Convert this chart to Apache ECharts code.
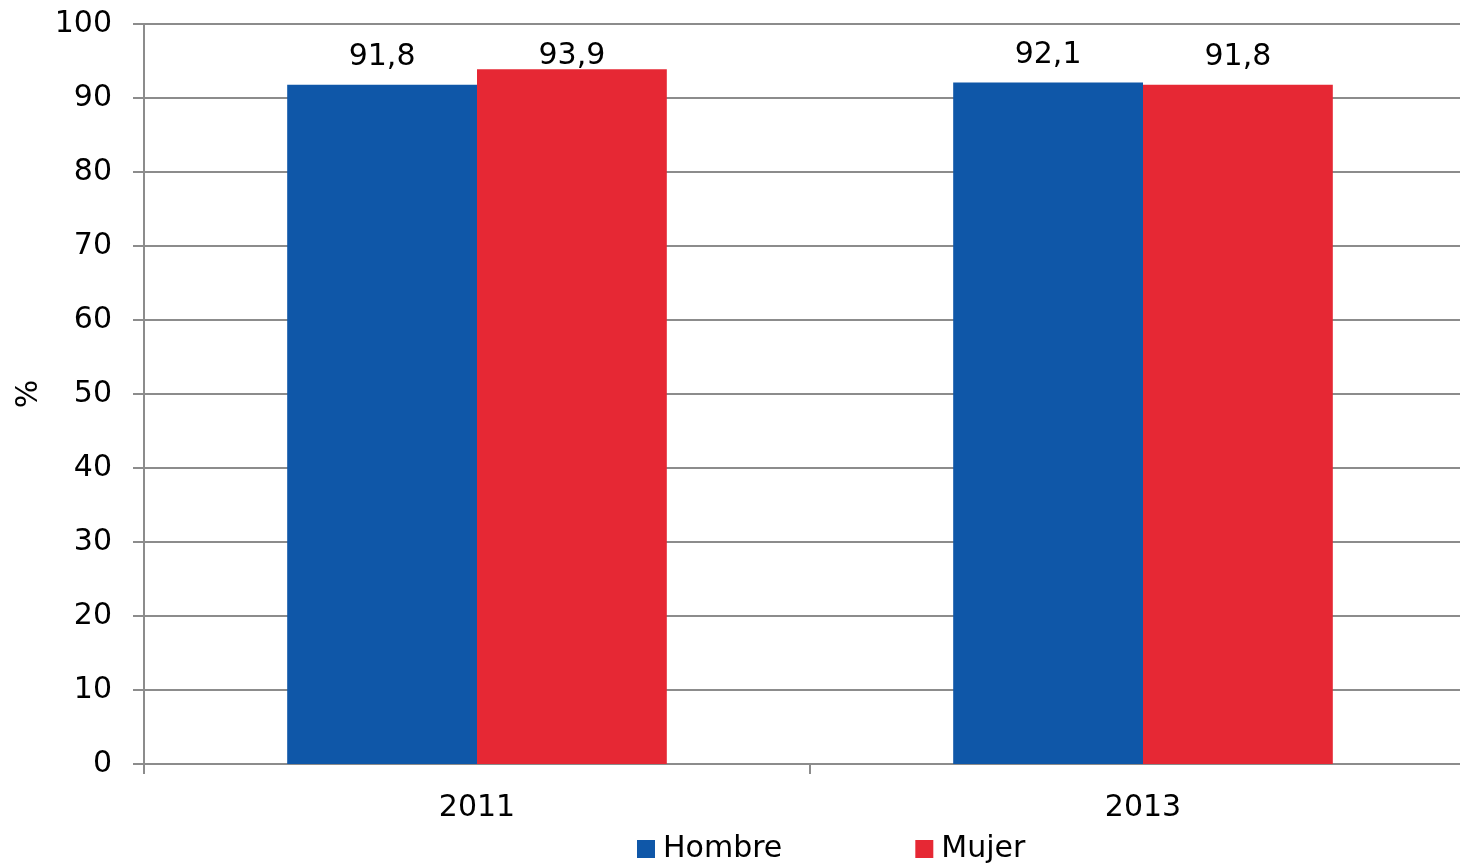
<!DOCTYPE html>
<html>
<head>
<meta charset="utf-8">
<script src="https://cdn.jsdelivr.net/npm/echarts@6/dist/echarts.min.js"></script>
<style>
html,body{margin:0;padding:0;background:#fff;overflow:hidden;width:1460px;height:865px;}
#c{width:1476px;height:865px;}
</style>
</head>
<body>
<div id="c"></div>
<script>
const categories = ['2011', '2013'];
const seriesNames = ['Hombre', 'Mujer'];
const hombre = [91.8, 92.1];
const mujer = [93.9, 91.8];
const yTicks = [0, 10, 20, 30, 40, 50, 60, 70, 80, 90, 100];

const FONT = 'DejaVu Sans, Verdana, sans-serif';
const GRAY = '#8c8c8c';
const fmt = v => String(v.toFixed(1)).replace('.', ',');

// Excel keeps the labels inside the plot area: the tallest bar's label sits closer to its bar
const maxVal = Math.max(...hombre, ...mujer);
const toData = arr => arr.map(v => v === maxVal ? {value: v, label: {distance: -2}} : v);

const chart = echarts.init(document.getElementById('c'), null, {renderer: 'canvas'});
chart.setOption({
  animation: false,
  textStyle: {fontFamily: FONT},
  grid: {left: 144, right: 0, top: 24, bottom: 101, containLabel: false},
  legend: {
    left: 637, top: 834, padding: 0,
    itemWidth: 18, itemHeight: 18, itemGap: 133,
    icon: 'rect',
    textStyle: {fontFamily: FONT, fontSize: 30, color: '#000', padding: [0, 0, 0, 3]},
    data: seriesNames
  },
  xAxis: {
    type: 'category',
    data: categories,
    axisLine: {lineStyle: {color: GRAY, width: 2}},
    axisTick: {show: true, length: 10, lineStyle: {color: GRAY, width: 2}},
    axisLabel: {fontFamily: FONT, fontSize: 30, color: '#000', margin: 29}
  },
  yAxis: {
    type: 'value',
    min: yTicks[0], max: yTicks[yTicks.length - 1], interval: 10,
    name: '%',
    nameLocation: 'middle',
    nameGap: 98,
    nameRotate: 90,
    nameTextStyle: {fontFamily: FONT, fontSize: 30, color: '#000'},
    axisLine: {show: true, lineStyle: {color: GRAY, width: 2}},
    axisTick: {show: true, length: 11, lineStyle: {color: GRAY, width: 2}},
    axisLabel: {fontFamily: FONT, fontSize: 30, color: '#000', margin: 32},
    splitLine: {show: true, lineStyle: {color: GRAY, width: 2}}
  },
  series: [
    {
      name: seriesNames[0], type: 'bar', data: toData(hombre),
      barGap: '0%', barCategoryGap: '43%',
      itemStyle: {color: '#0f57a8'},
      label: {show: true, position: 'top', distance: 12, formatter: p => fmt(p.value),
        fontFamily: FONT, fontSize: 30, color: '#000'}
    },
    {
      name: seriesNames[1], type: 'bar', data: toData(mujer),
      barGap: '0%', barCategoryGap: '43%',
      itemStyle: {color: '#e62834'},
      label: {show: true, position: 'top', distance: 12, formatter: p => fmt(p.value),
        fontFamily: FONT, fontSize: 30, color: '#000'}
    }
  ]
});
</script>
</body>
</html>
